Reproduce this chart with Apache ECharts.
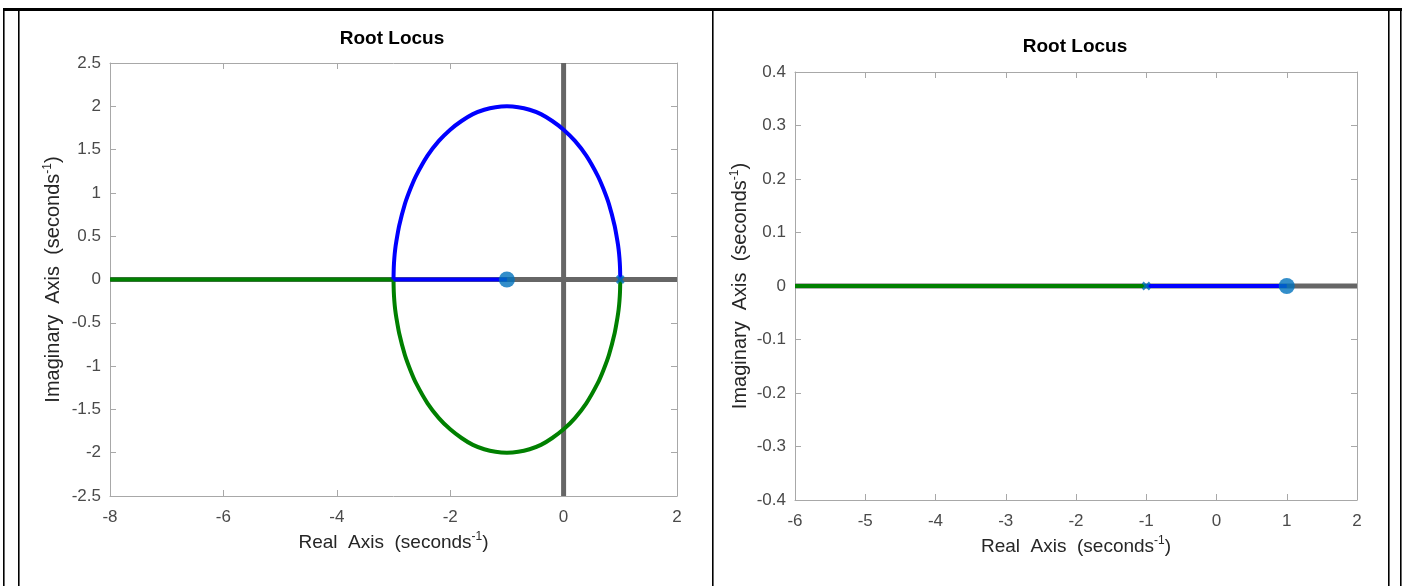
<!DOCTYPE html>
<html>
<head>
<meta charset="utf-8">
<title>Root Locus</title>
<script src="https://cdn.jsdelivr.net/npm/echarts@6/dist/echarts.min.js"></script>
<style>
  html, body { margin: 0; padding: 0; background: #ffffff; }
  #chart { width: 1405px; height: 586px; }
</style>
</head>
<body>
<div id="chart"></div>
<script>
// ---- Left plot: G(s) = (s+1)/(s-1)^2 ----
const leftXTicks = { min: -8, max: 2, interval: 2 };
const leftYTicks = { min: -2.5, max: 2.5, interval: 0.5 };

// upper branch (blue): from the double pole at 1 around to the break-in point at -3
const leftUpperArc = [
  [1, 0], [0.995, 0.14], [0.985, 0.25], [0.97, 0.35], [0.95, 0.44], [0.9, 0.62],
  [0.8, 0.87], [0.7, 1.05], [0.6, 1.2], [0.4, 1.43], [0.2, 1.6], [0, 1.73],
  [-0.2, 1.83], [-0.4, 1.91], [-0.6, 1.96], [-0.8, 1.99], [-1, 2],
  [-1.2, 1.99], [-1.4, 1.96], [-1.6, 1.91], [-1.8, 1.83], [-2, 1.73],
  [-2.2, 1.6], [-2.4, 1.43], [-2.6, 1.2], [-2.7, 1.05], [-2.8, 0.87],
  [-2.9, 0.62], [-2.95, 0.44], [-2.97, 0.35], [-2.985, 0.25], [-2.995, 0.14], [-3, 0]
];
// lower branch (green): mirror image below the real axis
const leftLowerArc = [
  [1, 0], [0.995, -0.14], [0.985, -0.25], [0.97, -0.35], [0.95, -0.44], [0.9, -0.62],
  [0.8, -0.87], [0.7, -1.05], [0.6, -1.2], [0.4, -1.43], [0.2, -1.6], [0, -1.73],
  [-0.2, -1.83], [-0.4, -1.91], [-0.6, -1.96], [-0.8, -1.99], [-1, -2],
  [-1.2, -1.99], [-1.4, -1.96], [-1.6, -1.91], [-1.8, -1.83], [-2, -1.73],
  [-2.2, -1.6], [-2.4, -1.43], [-2.6, -1.2], [-2.7, -1.05], [-2.8, -0.87],
  [-2.9, -0.62], [-2.95, -0.44], [-2.97, -0.35], [-2.985, -0.25], [-2.995, -0.14], [-3, 0]
];
const leftBlueReal = [[-3, 0], [-1, 0]];
const leftGreenReal = [[-3, 0], [-8, 0]];
const leftPoles = [[1, 0]];
const leftZeros = [[-1, 0]];
const leftRealAxisLine = [[-8, 0], [2, 0]];
const leftImagAxisLine = [[0, -2.5], [0, 2.5]];

// ---- Right plot: one pole at -1, one zero at 1 ----
const rightXTicks = { min: -6, max: 2, interval: 1 };
const rightYTicks = { min: -0.4, max: 0.4, interval: 0.1 };
const rightBlueReal = [[-1, 0], [1, 0]];
const rightGreenReal = [[-1, 0], [-6, 0]];
const rightPoles = [[-1, 0]];
const rightZeros = [[1, 0]];
const rightRealAxisLine = [[-6, 0], [2, 0]];

const titleText = 'Root Locus';
const xName = 'Real  Axis  (seconds{sup|-1})';
const yName = 'Imaginary  Axis  (seconds{sup|-1})';

const FONT = '"Liberation Sans", Arial, Helvetica, sans-serif';
const TICK_COLOR = '#4a4a4a';
const FRAME_COLOR = '#a8a8a8';
const NAME_COLOR = '#262626';
const BLUE = '#0000ff';
const GREEN = '#008000';
const GRAY = '#666666';
const MARK = '#0072bd';

// superscript: small text pushed up by bottom padding
const nameRich = {
  sup: { fontSize: 12, color: NAME_COLOR, fontFamily: FONT, padding: [0, 0, 11, 0] }
};

function mainX(gridIndex, t, gap) {
  return {
    type: 'value', gridIndex, min: t.min, max: t.max, interval: t.interval,
    position: 'bottom',
    name: xName, nameLocation: 'middle', nameGap: gap,
    nameTextStyle: { color: NAME_COLOR, fontSize: 19, fontFamily: FONT, rich: nameRich },
    axisLine: { show: true, onZero: false, lineStyle: { color: FRAME_COLOR, width: 1 } },
    axisTick: { show: true, inside: true, length: 6, lineStyle: { color: FRAME_COLOR } },
    axisLabel: { color: TICK_COLOR, fontSize: 17, fontFamily: FONT, margin: 13 },
    splitLine: { show: false }
  };
}
function frameX(gridIndex, t) {
  return {
    type: 'value', gridIndex, min: t.min, max: t.max, interval: t.interval,
    position: 'top',
    axisLine: { show: true, onZero: false, lineStyle: { color: FRAME_COLOR, width: 1 } },
    axisTick: { show: true, inside: true, length: 6, lineStyle: { color: FRAME_COLOR } },
    axisLabel: { show: false }, splitLine: { show: false }
  };
}
function mainY(gridIndex, t, gap, fmt) {
  return {
    type: 'value', gridIndex, min: t.min, max: t.max, interval: t.interval,
    position: 'left',
    name: yName, nameLocation: 'middle', nameGap: gap,
    nameTextStyle: { color: NAME_COLOR, fontSize: 20, fontFamily: FONT, rich: nameRich },
    axisLine: { show: true, onZero: false, lineStyle: { color: FRAME_COLOR, width: 1 } },
    axisTick: { show: true, inside: true, length: 6, lineStyle: { color: FRAME_COLOR } },
    axisLabel: { color: TICK_COLOR, fontSize: 17, fontFamily: FONT, margin: 9, formatter: fmt },
    splitLine: { show: false }
  };
}
function frameY(gridIndex, t) {
  return {
    type: 'value', gridIndex, min: t.min, max: t.max, interval: t.interval,
    position: 'right',
    axisLine: { show: true, onZero: false, lineStyle: { color: FRAME_COLOR, width: 1 } },
    axisTick: { show: true, inside: true, length: 6, lineStyle: { color: FRAME_COLOR } },
    axisLabel: { show: false }, splitLine: { show: false }
  };
}

function lineSeries(xi, yi, data, color, width, z, smooth) {
  return {
    type: 'line', xAxisIndex: xi, yAxisIndex: yi, data,
    showSymbol: false, symbol: 'none', smooth: smooth || false,
    lineStyle: { color, width, cap: 'butt', join: 'round' },
    z, silent: true, animation: false
  };
}
function zeroSeries(xi, yi, data, size) {
  return {
    type: 'scatter', xAxisIndex: xi, yAxisIndex: yi, data,
    symbol: 'circle', symbolSize: size,
    itemStyle: { color: MARK }, z: 10, silent: true, animation: false
  };
}
function poleSeries(xi, yi, data, size) {
  return {
    type: 'scatter', xAxisIndex: xi, yAxisIndex: yi, data,
    symbol: 'path://M0,0L10,10M10,0L0,10', symbolSize: size,
    itemStyle: { color: 'none', borderColor: MARK, borderWidth: 2.5 },
    z: 10, silent: true, animation: false
  };
}

// table cell borders around the two plots
const borderColor = '#000000';
const borders = [
  { type: 'rect', shape: { x: 3, y: 8, width: 1399, height: 3 } },
  { type: 'rect', shape: { x: 3, y: 8, width: 1.6, height: 578 } },
  { type: 'rect', shape: { x: 18, y: 8, width: 1.6, height: 578 } },
  { type: 'rect', shape: { x: 712, y: 8, width: 1.6, height: 578 } },
  { type: 'rect', shape: { x: 1388, y: 8, width: 1.6, height: 578 } },
  { type: 'rect', shape: { x: 1400, y: 8, width: 1.6, height: 578 } }
].map(b => Object.assign(b, { style: { fill: borderColor }, silent: true, z: 100 }));

const titleFont = 'bold 19px ' + FONT;
const titles = [
  { type: 'text', x: 392, y: 39, style: { text: titleText, fill: '#000', font: titleFont, textAlign: 'center', textVerticalAlign: 'middle' } },
  { type: 'text', x: 1075, y: 47, style: { text: titleText, fill: '#000', font: titleFont, textAlign: 'center', textVerticalAlign: 'middle' } }
];

const chart = echarts.init(document.getElementById('chart'), null, { renderer: 'canvas' });
chart.setOption({
  backgroundColor: '#ffffff',
  animation: false,
  graphic: borders.concat(titles),
  grid: [
    { left: 110, top: 63, width: 567, height: 433 },
    { left: 795, top: 72, width: 562, height: 428 }
  ],
  xAxis: [
    mainX(0, leftXTicks, 35), frameX(0, leftXTicks),
    mainX(1, rightXTicks, 35), frameX(1, rightXTicks)
  ],
  yAxis: [
    mainY(0, leftYTicks, 45, v => String(Math.round(v * 10) / 10)),
    frameY(0, leftYTicks),
    mainY(1, rightYTicks, 43, v => String(Math.round(v * 10) / 10)),
    frameY(1, rightYTicks)
  ],
  series: [
    // left plot
    lineSeries(0, 0, leftRealAxisLine, GRAY, 5, 2),
    lineSeries(0, 0, leftImagAxisLine, GRAY, 5, 2),
    lineSeries(0, 0, leftGreenReal, GREEN, 4, 4),
    lineSeries(0, 0, leftLowerArc, GREEN, 4, 4, 0.2),
    lineSeries(0, 0, leftBlueReal, BLUE, 4, 5),
    lineSeries(0, 0, leftUpperArc, BLUE, 4, 5, 0.2),
    zeroSeries(0, 0, leftZeros, 16),
    poleSeries(0, 0, leftPoles, 7),
    // right plot
    lineSeries(2, 2, rightRealAxisLine, GRAY, 5, 2),
    lineSeries(2, 2, rightGreenReal, GREEN, 4, 4),
    lineSeries(2, 2, rightBlueReal, BLUE, 4, 5),
    zeroSeries(2, 2, rightZeros, 16),
    poleSeries(2, 2, rightPoles, 7)
  ]
});
</script>
</body>
</html>
